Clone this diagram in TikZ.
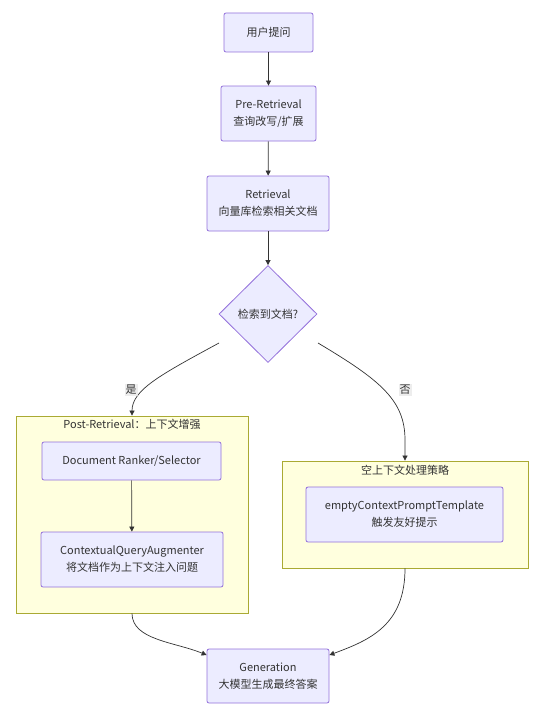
\documentclass[tikz,border=0pt]{standalone}
\usepackage{fontspec}
\setmainfont{Noto Sans CJK SC}
\usetikzlibrary{arrows.meta,shapes.geometric,calc}
\definecolor{nodefill}{HTML}{ECECFF}
\definecolor{nodeline}{HTML}{9370DB}
\definecolor{clfill}{HTML}{FFFFDE}
\definecolor{clline}{HTML}{AAAA33}
\definecolor{txt}{HTML}{333333}
\definecolor{edge}{HTML}{333333}
\definecolor{lblbg}{HTML}{E8E8E8}
\tikzset{
  box/.style={draw=nodeline, fill=nodefill, line width=0.8pt, rounded corners=2pt,
    align=center, text=txt, font=\fontsize{11}{17}\selectfont, inner sep=0pt},
  cluster/.style={draw=clline, fill=clfill, line width=0.8pt, inner sep=0pt},
  cltitle/.style={text=txt, font=\fontsize{11}{13}\selectfont, inner sep=0pt},
  decide/.style={diamond, draw=nodeline, fill=nodefill, line width=0.8pt, text=txt,
    font=\fontsize{11}{13}\selectfont, inner sep=0pt, minimum width=98pt, minimum height=97pt, aspect=1},
  conn/.style={draw=edge, line width=0.7pt, -{Triangle[length=5pt,width=5pt]}},
  elabel/.style={fill=lblbg, fill opacity=0.8, text opacity=1, text=txt,
    font=\fontsize{11}{13}\selectfont, inner sep=1pt}
}
\begin{document}
\begin{tikzpicture}[x=1pt,y=-1pt]
\useasboundingbox (0,0) rectangle (545,717);
% clusters
\node[cluster, minimum width=232pt, minimum height=197pt] (post) at (132,514.5) {};
\node[cltitle] (posttitle) at (132,424) {Post-Retrieval：上下文增强};
\node[cluster, minimum width=246pt, minimum height=107pt] (empty) at (405,514.5) {};
\node[cltitle] (emptytitle) at (405,470) {空上下文处理策略};
% nodes
\node[box, minimum width=89pt, minimum height=39pt] (q) at (268.5,32.5) {用户提问};
\node[box, minimum width=95pt, minimum height=55pt] (pre) at (268.5,113.5) {Pre-Retrieval\\查询改写/扩展};
\node[box, minimum width=122pt, minimum height=55pt] (ret) at (268,203.5) {Retrieval\\向量库检索相关文档};
\node[decide] (dec) at (268,314) {检索到文档?};
\node[box, minimum width=179pt, minimum height=38pt] (rank) at (131.5,461) {Document Ranker/Selector};
\node[box, minimum width=182pt, minimum height=55pt] (aug) at (132,559.5) {ContextualQueryAugmenter\\将文档作为上下文注入问题};
\node[box, minimum width=197pt, minimum height=55pt] (tmpl) at (404.5,514.5) {emptyContextPromptTemplate\\触发友好提示};
\node[box, minimum width=122pt, minimum height=54pt] (gen) at (268,676) {Generation\\大模型生成最终答案};
% connectors
\draw[conn] (q) -- (pre);
\draw[conn] (pre) -- (ret);
\draw[conn] (ret) -- (dec);
\coordinate (dl) at (219,343);
\coordinate (dr) at (318,343);
\draw[conn] (dl) .. controls (160,375) and (132,390) .. (post.north);
\draw[conn] (dr) .. controls (380,380) and (405,400) .. (405,440) -- (empty.north);
\node[elabel] (yes) at (131,390) {是};
\node[elabel] (no) at (405,390) {否};
\draw[conn] (rank) -- (aug);
\draw[conn] (post.south) .. controls (132,640) and (175,642) .. (gen.west |- 0,655);
\draw[conn] (empty.south) .. controls (405,625) and (370,640) .. (gen.east |- 0,655);
\end{tikzpicture}
\end{document}
